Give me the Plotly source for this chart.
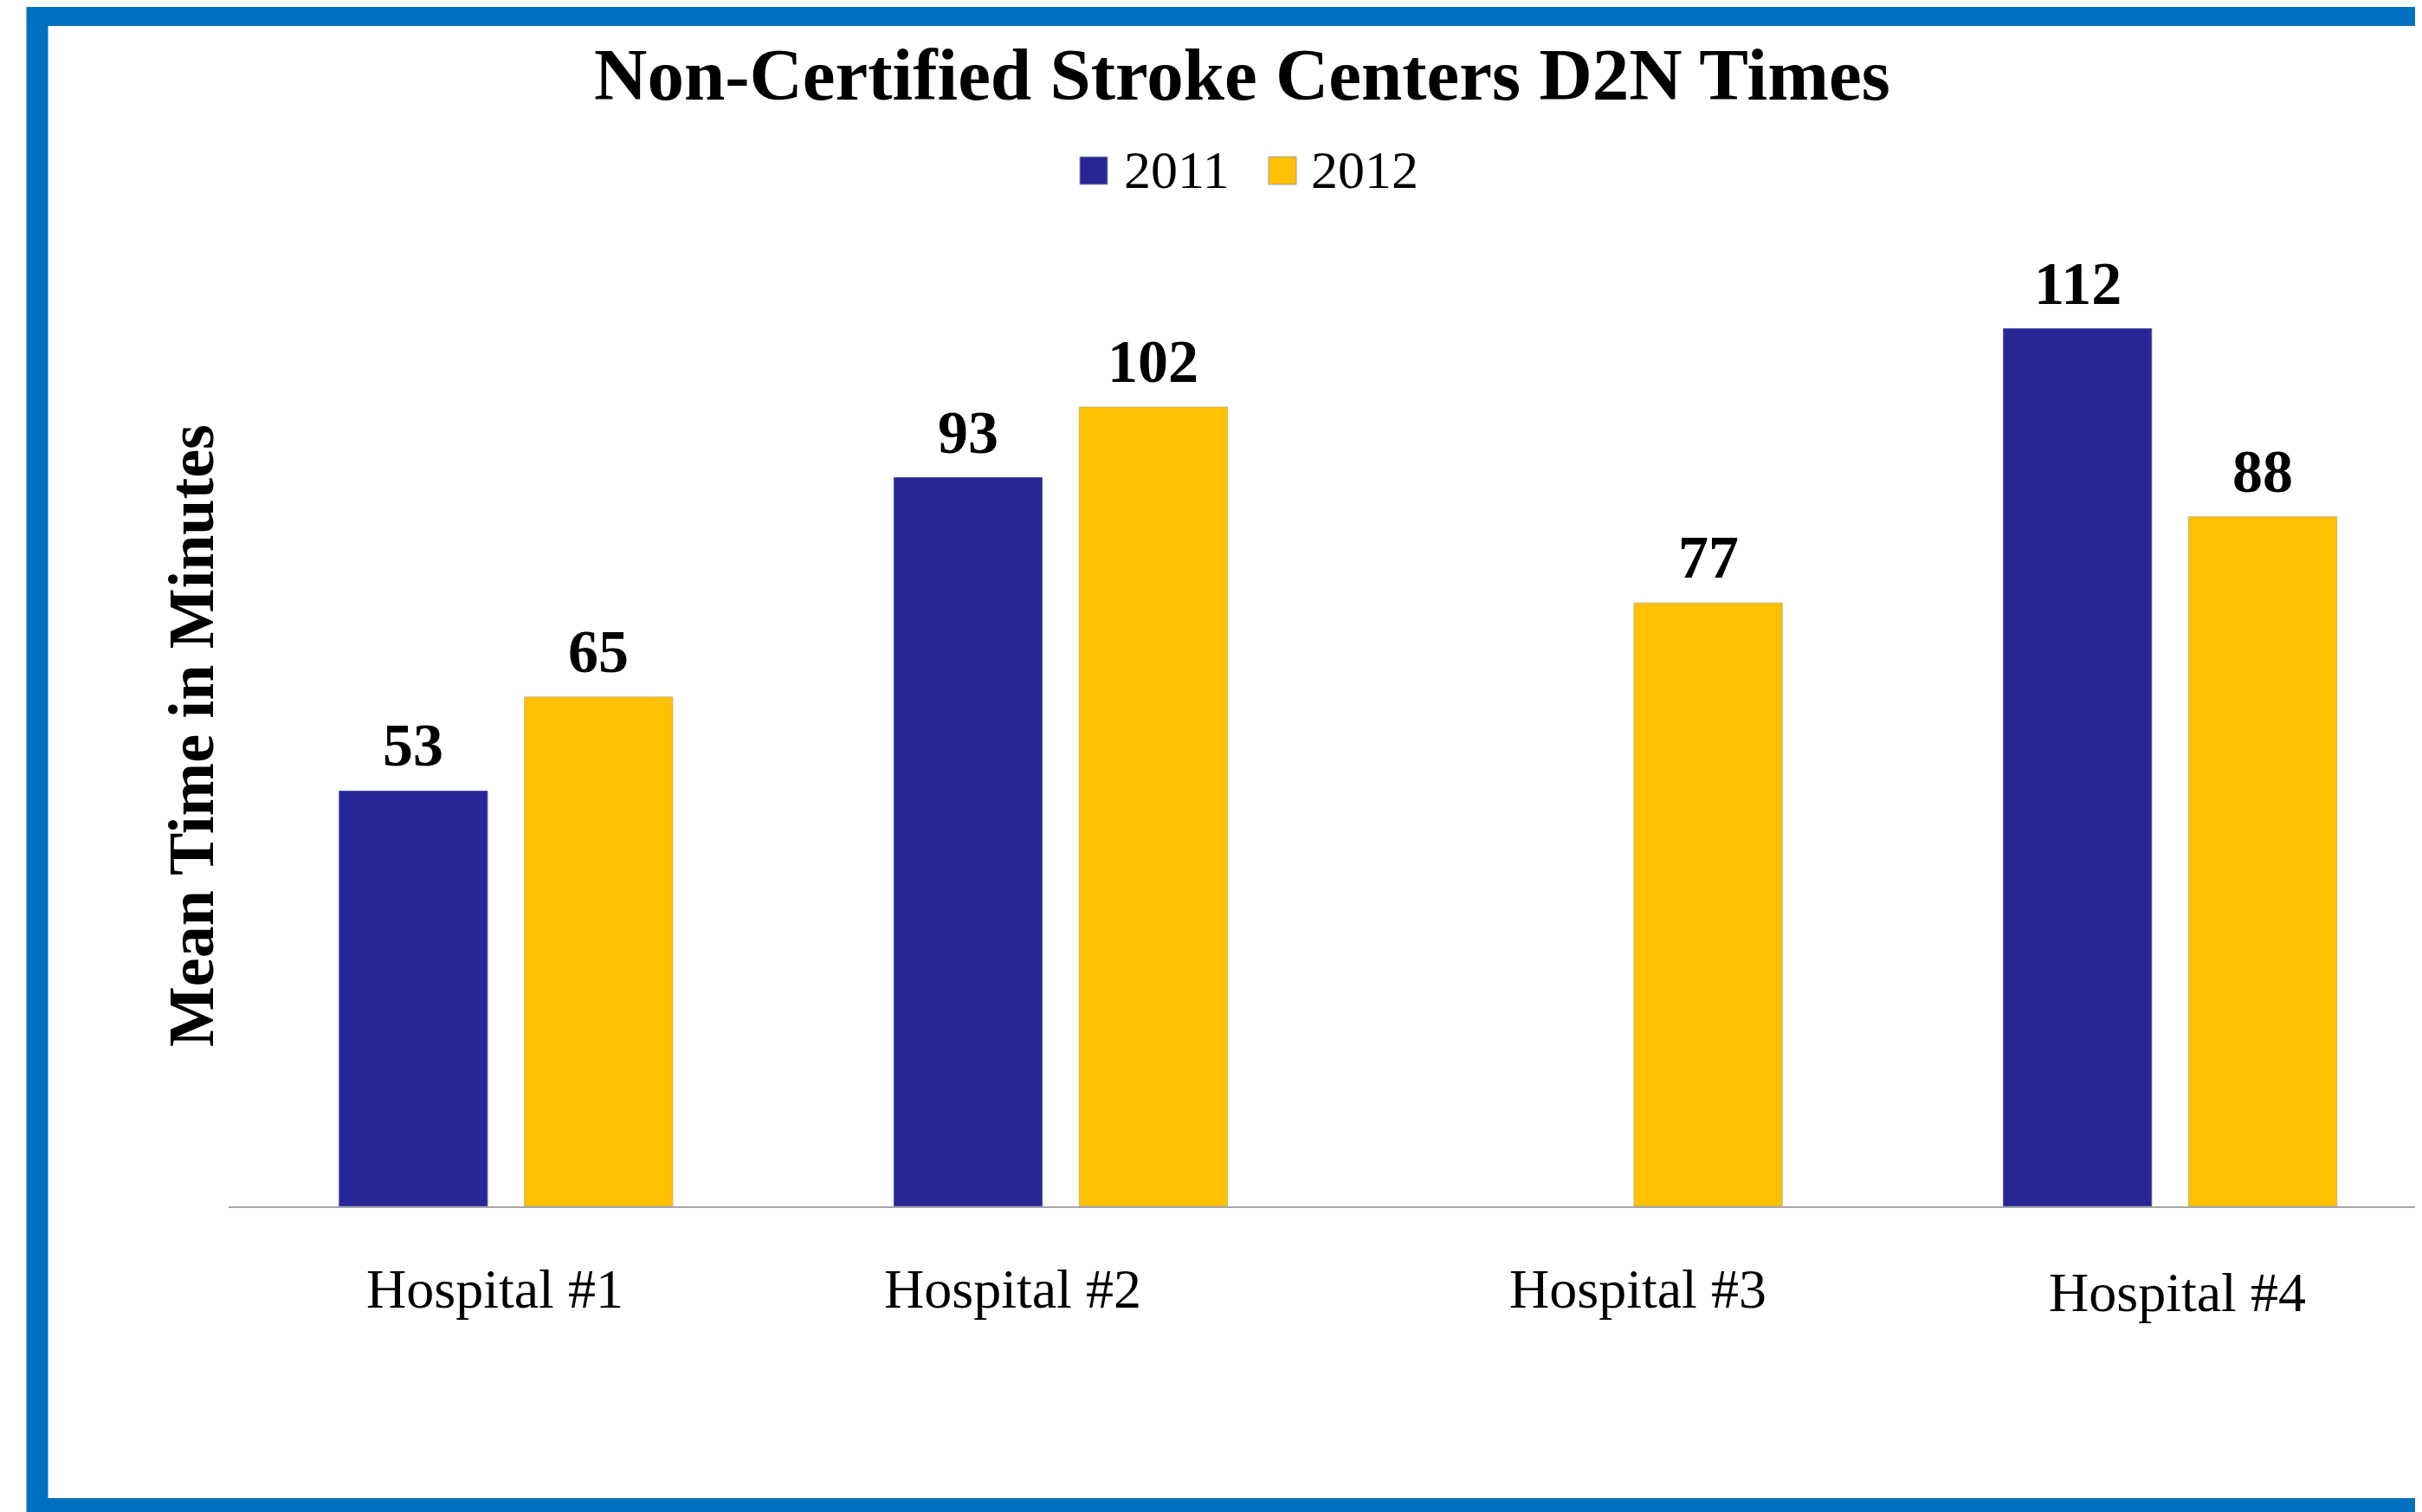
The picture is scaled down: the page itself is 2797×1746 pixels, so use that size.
import plotly.graph_objects as go

# ---------------- data ----------------
categories = ["Hospital #1", "Hospital #2", "Hospital #3", "Hospital #4"]
series_names = ["2011", "2012"]
values_2011 = [53, 93, None, 112]
values_2012 = [65, 102, 77, 88]
chart_title = "Non-Certified Stroke Centers D2N Times"
y_title = "Mean Time in Minutes"
# small manual offsets of the category text boxes (in category units)
label_shift = [-0.02, -0.087, 0.041, 0.013]

# ---------------- styling ----------------
OFF = 8                      # browser body margin
W, H = 2797 - OFF, 1746 - OFF
# plot area in screen pixels
L, R, T, B = 264, 2797, 300, 1393
BLUE = "#262696"
GOLD = "#FFC000"
BORDER = "#0070C0"
FONT = "Liberation Serif"
BARGAP, BARGROUPGAP = 0.332, 0.2


def px(x):
    return (x - L) / (R - L)


def py(y):
    return (B - y) / (B - T)


xs = list(range(len(categories)))
fig = go.Figure()
fig.add_trace(go.Bar(
    name=series_names[0], x=xs, y=values_2011,
    marker=dict(color=BLUE, line=dict(color="#4F52A8", width=1)),
    showlegend=False,
))
fig.add_trace(go.Bar(
    name=series_names[1], x=xs, y=values_2012,
    marker=dict(color=GOLD, line=dict(color="#C9B37A", width=1)),
    showlegend=False,
))

annotations = []
# value labels above each bar (bar centres follow the group layout)
slot = (1 - BARGAP) / 2
for k, vals in enumerate([values_2011, values_2012]):
    dx = (k - 0.5) * slot
    for i, v in zip(xs, vals):
        if v is None:
            continue
        annotations.append(dict(
            text=f"<b>{v}</b>", x=i + dx, y=v, xref="x", yref="y",
            xanchor="center", yanchor="bottom", yshift=12, showarrow=False,
            font=dict(family=FONT, size=70, color="black"),
        ))
# title
annotations.append(dict(
    text=f"<b>{chart_title}</b>", x=px(1434), y=py(86), xref="paper", yref="paper",
    xanchor="center", yanchor="middle", showarrow=False,
    font=dict(family=FONT, size=85, color="black"),
))
# y-axis title
annotations.append(dict(
    text=f"<b>{y_title}</b>", x=px(221), y=py(850), xref="paper", yref="paper",
    xanchor="center", yanchor="middle", showarrow=False, textangle=-90,
    font=dict(family=FONT, size=74, color="black"),
))
# category labels
for i, (c, s) in enumerate(zip(categories, label_shift)):
    annotations.append(dict(
        text=c, x=i + s, xref="x", y=py(1488 if i < 3 else 1492), yref="paper",
        xanchor="center", yanchor="middle", showarrow=False,
        font=dict(family=FONT, size=64, color="black"),
    ))

# manual legend
shapes = []
legend_items = [(series_names[0], BLUE, 1247, 1296), (series_names[1], GOLD, 1465, 1512)]
for name, col, sx, tx in legend_items:
    shapes.append(dict(
        type="rect", xref="paper", yref="paper",
        x0=px(sx), x1=px(sx + 32), y0=py(213), y1=py(181),
        fillcolor=col, line=dict(color="#9A9AB0", width=1),
    ))
    annotations.append(dict(
        text=name, x=px(tx), y=py(196), xref="paper", yref="paper",
        xanchor="left", yanchor="middle", showarrow=False,
        font=dict(family=FONT, size=62, color="black"),
    ))

# outer blue frame
shapes.append(dict(
    type="rect", xref="paper", yref="paper", layer="above",
    x0=px(43), x1=px(2950), y0=py(1742.5), y1=py(17.5),
    line=dict(color=BORDER, width=25), fillcolor="rgba(0,0,0,0)",
))

fig.update_layout(
    width=W, height=H,
    margin=dict(l=L - OFF, r=W - (R - OFF), t=T - OFF, b=H - (B - OFF), pad=0),
    paper_bgcolor="white", plot_bgcolor="white",
    barmode="group", bargap=BARGAP, bargroupgap=BARGROUPGAP,
    annotations=annotations, shapes=shapes,
    showlegend=False,
    font=dict(family=FONT),
)
fig.update_xaxes(
    range=[-0.5, 3.454], showticklabels=False, ticks="",
    showgrid=False, zeroline=False,
    showline=True, linecolor="#A6A6A6", linewidth=2,
)
fig.update_yaxes(
    range=[0, 120.8], showticklabels=False, ticks="",
    showgrid=False, zeroline=False, showline=False,
)

fig.write_html("out.html")
